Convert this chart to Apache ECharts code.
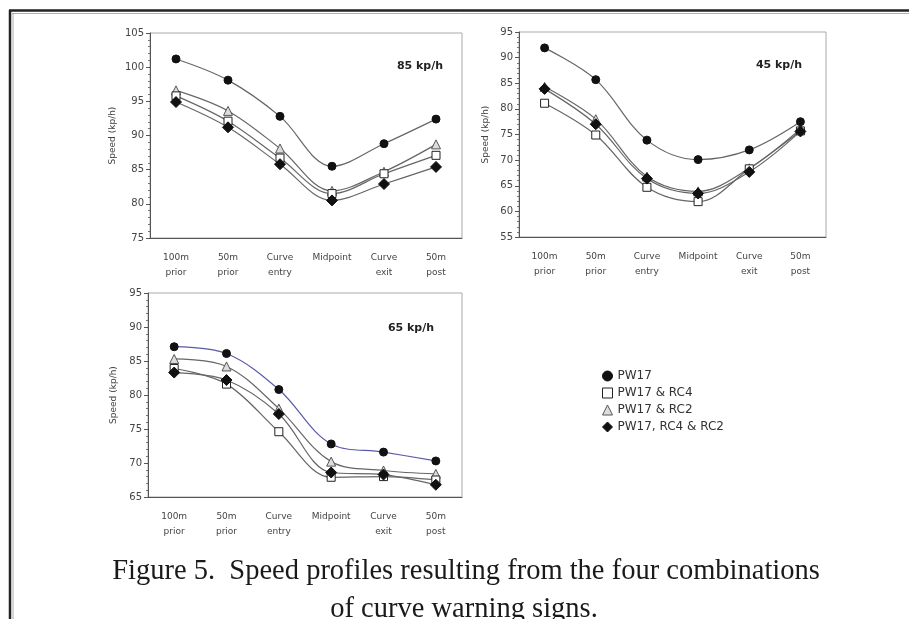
<!DOCTYPE html>
<html>
<head>
<meta charset="utf-8">
<title>Speed profiles</title>
<script src="https://cdn.jsdelivr.net/npm/echarts@6/dist/echarts.min.js"></script>
<style>
  html, body { margin: 0; padding: 0; background: #fff; }
  #chart { width: 909px; height: 619px; }
</style>
</head>
<body>
<div id="chart"></div>
<script>
// Measurement locations along the curve approach
const categories = ['100m\nprior', '50m\nprior', 'Curve\nentry', 'Midpoint', 'Curve\nexit', '50m\npost'];

// Sign combinations
const seriesNames = ['PW17', 'PW17 & RC4', 'PW17 & RC2', 'PW17, RC4 & RC2'];

// 85th percentile speeds (kp/h), 85 kp/h curve
const pw17_85 = [101.2, 98.1, 92.8, 85.5, 88.8, 92.4];
const rc4_85  = [95.8, 92.1, 86.7, 81.5, 84.4, 87.1];
const rc2_85  = [96.6, 93.6, 88.1, 81.9, 84.7, 88.7];
const all_85  = [94.9, 91.2, 85.8, 80.5, 82.9, 85.4];

// 45 kp/h curve
const pw17_45 = [91.9, 85.7, 73.9, 70.1, 72.0, 77.5];
const rc4_45  = [81.1, 74.9, 64.7, 61.9, 68.3, 75.7];
const rc2_45  = [84.3, 78.0, 66.8, 63.9, 68.4, 76.1];
const all_45  = [83.9, 77.0, 66.4, 63.5, 67.7, 75.6];

// 65 kp/h curve
const pw17_65 = [87.1, 86.1, 80.8, 72.8, 71.6, 70.3];
const rc4_65  = [83.9, 81.6, 74.6, 67.9, 68.0, 67.5];
const rc2_65  = [85.3, 84.2, 78.0, 70.2, 68.9, 68.4];
const all_65  = [83.3, 82.2, 77.2, 68.6, 68.3, 66.8];

// Y axis ranges [min, max] per panel
const yRange85 = [75, 105];
const yRange45 = [55, 95];
const yRange65 = [65, 95];

const panelTitles = ['85 kp/h', '45 kp/h', '65 kp/h'];
const yAxisName = 'Speed (kp/h)';
const captionLines = [
  'Figure 5.  Speed profiles resulting from the four combinations',
  'of curve warning signs.'
];

const sans = '"DejaVu Sans", "Liberation Sans", Arial, sans-serif';
const serifFont = '28.5px "Liberation Serif", "Times New Roman", serif';

const markerStyles = [
  { symbol: 'circle',   symbolSize: 8,  itemStyle: { color: '#111', borderColor: '#111', borderWidth: 1 } },
  { symbol: 'rect',     symbolSize: 8,  itemStyle: { color: '#fff', borderColor: '#222', borderWidth: 1 } },
  { symbol: 'triangle', symbolSize: 9,  itemStyle: { color: '#ddd', borderColor: '#555', borderWidth: 1 } },
  { symbol: 'diamond',  symbolSize: 11, itemStyle: { color: '#111', borderColor: '#111', borderWidth: 1 } }
];

const grids = [
  { left: 150, top: 33, width: 312, height: 205 },
  { left: 519, top: 32, width: 307, height: 205 },
  { left: 148, top: 293, width: 314, height: 204 }
];

function makeX(i) {
  return {
    type: 'category', gridIndex: i, data: categories, boundaryGap: true,
    axisLine: { lineStyle: { color: '#555', width: 1 } },
    axisTick: { inside: true, length: 5, lineStyle: { color: '#555' } },
    axisLabel: { fontFamily: sans, fontSize: 9, color: '#444', lineHeight: 15, margin: 12 },
    splitLine: { show: false }
  };
}

function makeY(i, range, gap) {
  return {
    type: 'value', gridIndex: i, min: range[0], max: range[1], interval: 5,
    name: yAxisName, nameLocation: 'middle', nameGap: gap, nameRotate: 90,
    nameTextStyle: { fontFamily: sans, fontSize: 9, color: '#444' },
    axisLine: { show: true, lineStyle: { color: '#555', width: 1 } },
    axisTick: { show: true, length: 4, lineStyle: { color: '#555' } },
    minorTick: { show: true, splitNumber: 5, length: 2, lineStyle: { color: '#777' } },
    axisLabel: { fontFamily: sans, fontSize: 10, color: '#444', margin: 6 },
    splitLine: { show: false }
  };
}

function makeSeries(gridIdx, sets, pw17LineColor) {
  // draw order: RC2, RC4, all three, PW17 on top
  const order = [2, 1, 3, 0];
  return order.map(k => Object.assign({
    name: seriesNames[k], type: 'line',
    xAxisIndex: gridIdx, yAxisIndex: gridIdx,
    data: sets[k], smooth: 0.35,
    lineStyle: { color: k === 0 && pw17LineColor ? pw17LineColor : '#666', width: 1.2 },
    emphasis: { disabled: true },
    animation: false
  }, markerStyles[k]));
}

function centeredText(text, x, y, font, fill) {
  return {
    type: 'text', x: x, y: y, silent: true,
    style: { text: text, font: font, fill: fill,
             align: 'center', verticalAlign: 'middle',
             textAlign: 'center', textVerticalAlign: 'middle' }
  };
}

const chart = echarts.init(document.getElementById('chart'), null, { renderer: 'canvas' });

chart.setOption({
  backgroundColor: '#fff',
  animation: false,
  grid: grids.map(g => Object.assign({ show: true, borderColor: '#aaa', borderWidth: 1, backgroundColor: 'transparent' }, g)),
  xAxis: [makeX(0), makeX(1), makeX(2)],
  yAxis: [makeY(0, yRange85, 33), makeY(1, yRange45, 29), makeY(2, yRange65, 30)],
  legend: {
    orient: 'vertical', left: 597, top: 365, itemWidth: 10, itemHeight: 10, itemGap: 5,
    selectedMode: false,
    textStyle: { fontFamily: sans, fontSize: 12, color: '#333' },
    data: seriesNames.map((n, k) => ({
      name: n,
      icon: markerStyles[k].symbol,
      itemStyle: markerStyles[k].itemStyle
    }))
  },
  series: [].concat(
    makeSeries(0, [pw17_85, rc4_85, rc2_85, all_85]),
    makeSeries(1, [pw17_45, rc4_45, rc2_45, all_45]),
    makeSeries(2, [pw17_65, rc4_65, rc2_65, all_65], '#5a5aa8')
  ),
  graphic: [
    // page frame
    { type: 'line', silent: true, shape: { x1: 9, y1: 10.5, x2: 909, y2: 10.5 }, style: { stroke: '#222', lineWidth: 2.5 } },
    { type: 'line', silent: true, shape: { x1: 12, y1: 13.5, x2: 909, y2: 13.5 }, style: { stroke: '#999', lineWidth: 0.8 } },
    { type: 'line', silent: true, shape: { x1: 10, y1: 10, x2: 10, y2: 619 }, style: { stroke: '#222', lineWidth: 2.5 } },
    { type: 'line', silent: true, shape: { x1: 13, y1: 13, x2: 13, y2: 619 }, style: { stroke: '#999', lineWidth: 0.8 } },
    // panel titles
    centeredText(panelTitles[0], 420, 66, 'bold 11px ' + sans, '#222'),
    centeredText(panelTitles[1], 779, 65, 'bold 11px ' + sans, '#222'),
    centeredText(panelTitles[2], 411, 328, 'bold 11px ' + sans, '#222'),
    // caption
    centeredText(captionLines[0], 466, 572, serifFont, '#1a1a1a'),
    centeredText(captionLines[1], 464, 610, serifFont, '#1a1a1a')
  ]
});
</script>
</body>
</html>
